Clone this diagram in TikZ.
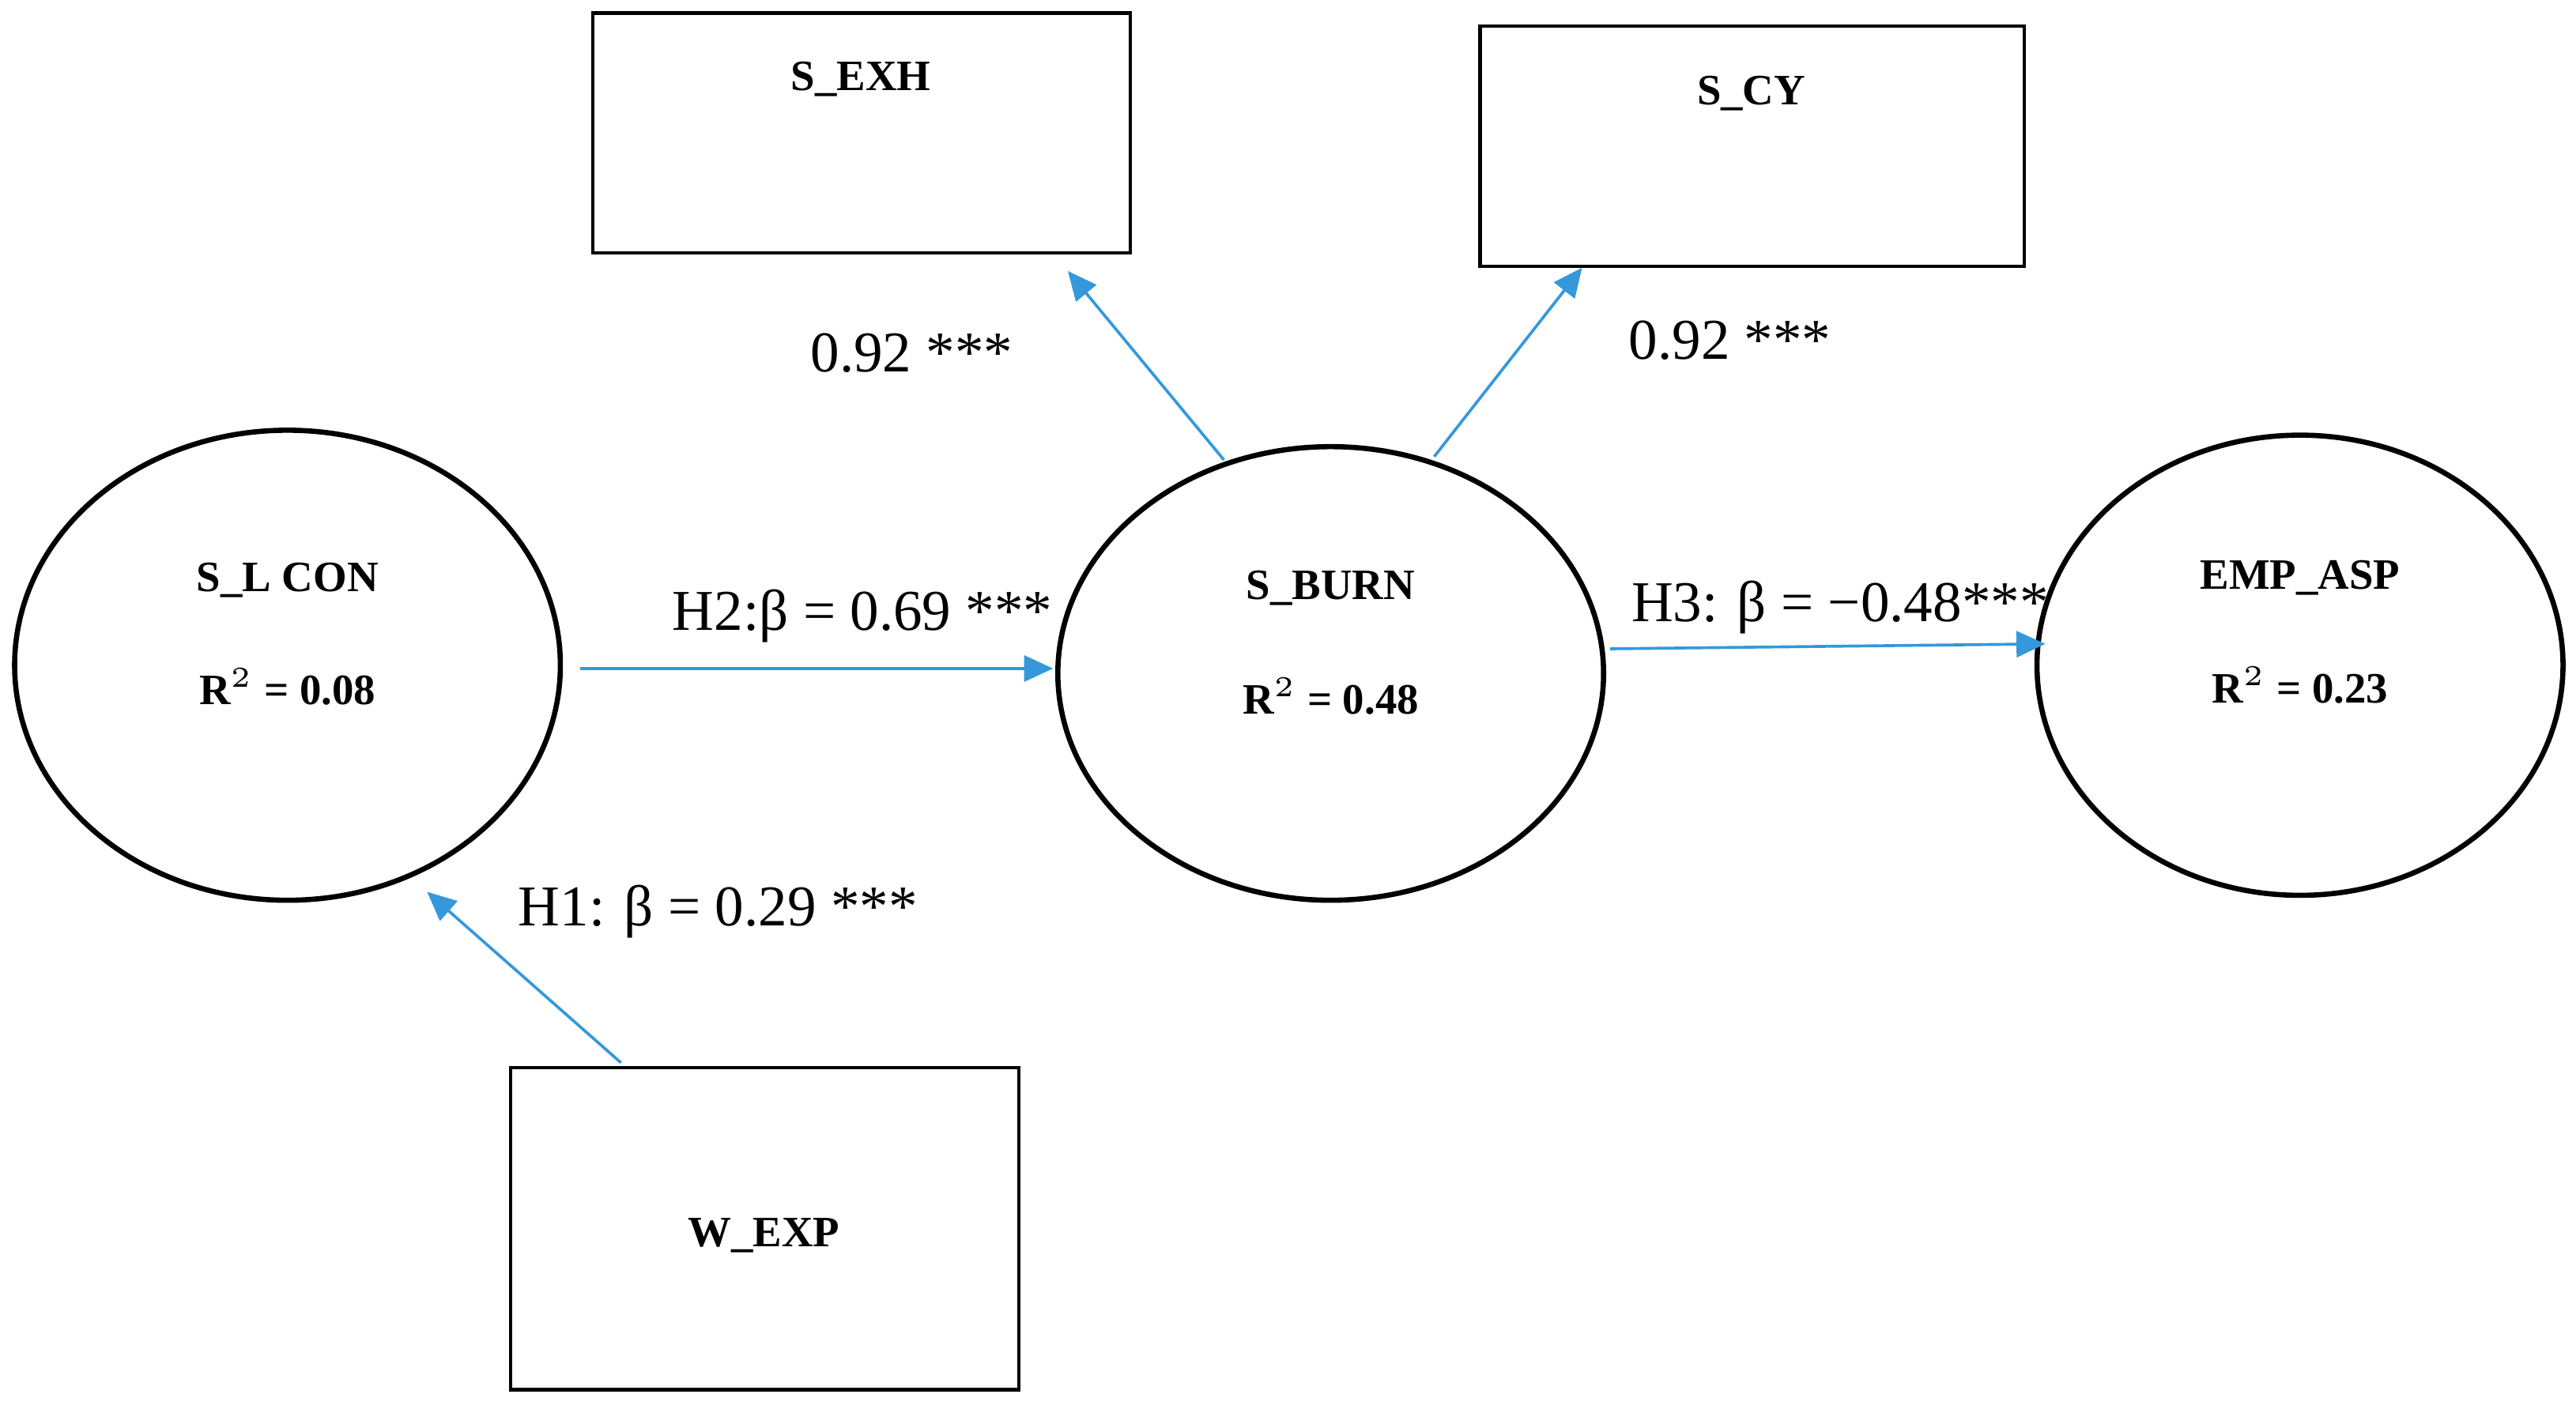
\documentclass[tikz,border=0pt]{standalone}
\usepackage{fontspec}
\setmainfont{Liberation Serif}
\usetikzlibrary{shapes.geometric,arrows.meta}
\definecolor{arr}{RGB}{52,152,219}
\begin{document}
\begin{tikzpicture}[x=0.01cm,y=-0.01cm,
 box/.style={draw,line width=0.6pt,inner sep=0},
 ell/.style={draw,ellipse,line width=0.9pt,inner sep=0},
 lab/.style={font=\bfseries\fontsize{7.5}{9}\selectfont},
 coef/.style={font=\fontsize{10}{12}\selectfont},
 ar/.style={draw=arr,line width=0.5pt,-{Triangle[length=5pt,width=4.5pt]}}]
\useasboundingbox (0,0) rectangle (1568,860);
\node[box,minimum width=327\pgflinewidth,minimum width=3.27cm,minimum height=1.46cm] (exh) at (524.5,81) {};
\node[lab] (exht) at (524,48) {S\_EXH};
\node[box,minimum width=3.31cm,minimum height=1.46cm] (cy) at (1066.5,89) {};
\node[lab] (cyt) at (1066,57) {S\_CY};
\node[box,minimum width=3.09cm,minimum height=1.96cm] (wexp) at (465.5,748) {};
\node[lab] (wt) at (465,752) {W\_EXP};
\node[ell,minimum width=3.32cm,minimum height=2.86cm] (slcon) at (175,405) {};
\node[lab] at (175,353) {S\_L CON};
\node[lab] at (175,418) {R$^{2}$ = 0.08};
\node[ell,minimum width=3.32cm,minimum height=2.76cm] (burn) at (810,410) {};
\node[lab] at (810,358) {S\_BURN};
\node[lab] at (810,424) {R$^{2}$ = 0.48};
\node[ell,minimum width=3.2cm,minimum height=2.8cm] (emp) at (1400,405) {};
\node[lab] at (1400,352) {EMP\_ASP};
\node[lab] at (1400,417) {R$^{2}$ = 0.23};
\coordinate (b1) at (745,280); \coordinate (e1) at (650,165);
\coordinate (b2) at (873,278); \coordinate (e2) at (963,163);
\coordinate (b3) at (353,407); \coordinate (e3) at (641,407);
\coordinate (b4) at (980,395); \coordinate (e4) at (1245,392);
\coordinate (b5) at (378,647); \coordinate (e5) at (260,543);
\draw[ar] (b1) -- (e1);
\draw[ar] (b2) -- (e2);
\draw[ar] (b3) -- (e3);
\draw[ar] (b4) -- (e4);
\draw[ar] (b5) -- (e5);
\node[coef] at (555,215) {0.92 ***};
\node[coef] at (1053,207) {0.92 ***};
\node[coef] at (525,375) {H2:β = 0.69 ***};
\node[coef] at (1120,370) {H3: β = −0.48***};
\node[coef] at (437,555) {H1: β = 0.29 ***};
\end{tikzpicture}
\end{document}
